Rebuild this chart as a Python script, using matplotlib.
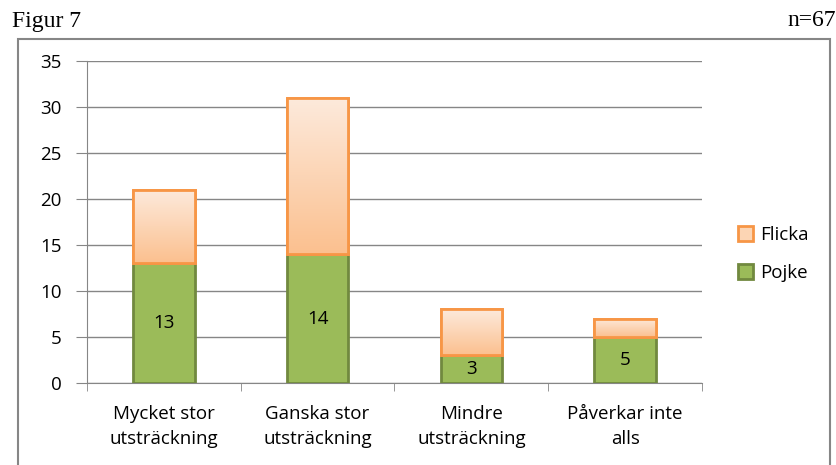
import numpy as np
import matplotlib
matplotlib.use("Agg")
import matplotlib.pyplot as plt
from matplotlib.colors import LinearSegmentedColormap
from matplotlib.patches import Rectangle

categories = ["Mycket stor\nutsträckning", "Ganska stor\nutsträckning",
              "Mindre\nutsträckning", "Påverkar inte\nalls"]
pojke = [13, 14, 3, 5]
flicka = [8, 17, 5, 2]

plt.rcParams['font.family'] = ['Open Sans', 'DejaVu Sans']
fs = 13.5

fig = plt.figure(figsize=(8.37, 4.65), dpi=100)

# outer chart frame
fig.patches.append(Rectangle((18 / 837, -0.05), (830 - 18) / 837, (465 - 39) / 465 + 0.05,
                             transform=fig.transFigure, fill=False,
                             edgecolor='#868686', linewidth=1.5))

fig.text(12 / 837, 1 - 21 / 465, "Figur 7", family='Liberation Serif', fontsize=17,
         va='center', ha='left')
fig.text(836 / 837, 1 - 21 / 465, "n=67", family='Liberation Serif', fontsize=17,
         va='center', ha='right')

ax = fig.add_axes([87 / 837, 82 / 465, 615 / 837, 322 / 465])
x = np.arange(len(categories))
w = 0.4

b1 = ax.bar(x, pojke, w, color='#9bbb59', edgecolor='#71893f', linewidth=2,
            label='Pojke', zorder=3)
b2 = ax.bar(x, flicka, w, bottom=pojke, color='#fcd5b4', edgecolor='#f79646',
            linewidth=2, label='Flicka', zorder=3)

# gradient fill for the Flicka bars
cmap = LinearSegmentedColormap.from_list('fl', ['#fdeadc', '#fbc08f'])
grad = np.linspace(0, 1, 256).reshape(-1, 1)
for p in b2:
    x0, y0 = p.get_x(), p.get_y()
    im = ax.imshow(grad, cmap=cmap, aspect='auto', origin='upper',
                   extent=[x0, x0 + p.get_width(), y0, y0 + p.get_height()],
                   zorder=3.5)
    im.set_clip_path(p)
    edge = Rectangle((x0, y0), p.get_width(), p.get_height(), fill=False,
                     edgecolor='#f79646', linewidth=2, zorder=4)
    ax.add_patch(edge)

for i, v in enumerate(pojke):
    ax.text(x[i], v / 2, str(v), ha='center', va='center', fontsize=fs, zorder=5)

ax.set_xlim(-0.5, len(categories) - 0.5)
ax.set_ylim(0, 35)
ax.set_yticks(range(0, 36, 5))
ax.yaxis.grid(True, color='#868686', linewidth=1)
ax.set_axisbelow(True)
ax.set_xticks(x)
ax.set_xticklabels(categories, fontsize=fs, linespacing=1.5)
ax.tick_params(axis='x', length=0, pad=16)
ax.set_xticks(np.arange(-0.5, len(categories)), minor=True)
ax.tick_params(axis='x', which='minor', length=6, color='#868686')
ax.tick_params(axis='y', labelsize=fs, length=8, color='#868686', pad=10)
for s in ['top', 'right']:
    ax.spines[s].set_visible(False)
ax.spines['left'].set_color('#868686')
ax.spines['bottom'].set_color('#868686')

h, l = ax.get_legend_handles_labels()
fig.legend(h[::-1], l[::-1], loc='center left', bbox_to_anchor=(721 / 837, 1 - 254 / 465),
           frameon=False, fontsize=fs, handlelength=0.8, handleheight=0.8,
           labelspacing=1.05, handletextpad=0.4)

fig.savefig("out.png", dpi=100)
